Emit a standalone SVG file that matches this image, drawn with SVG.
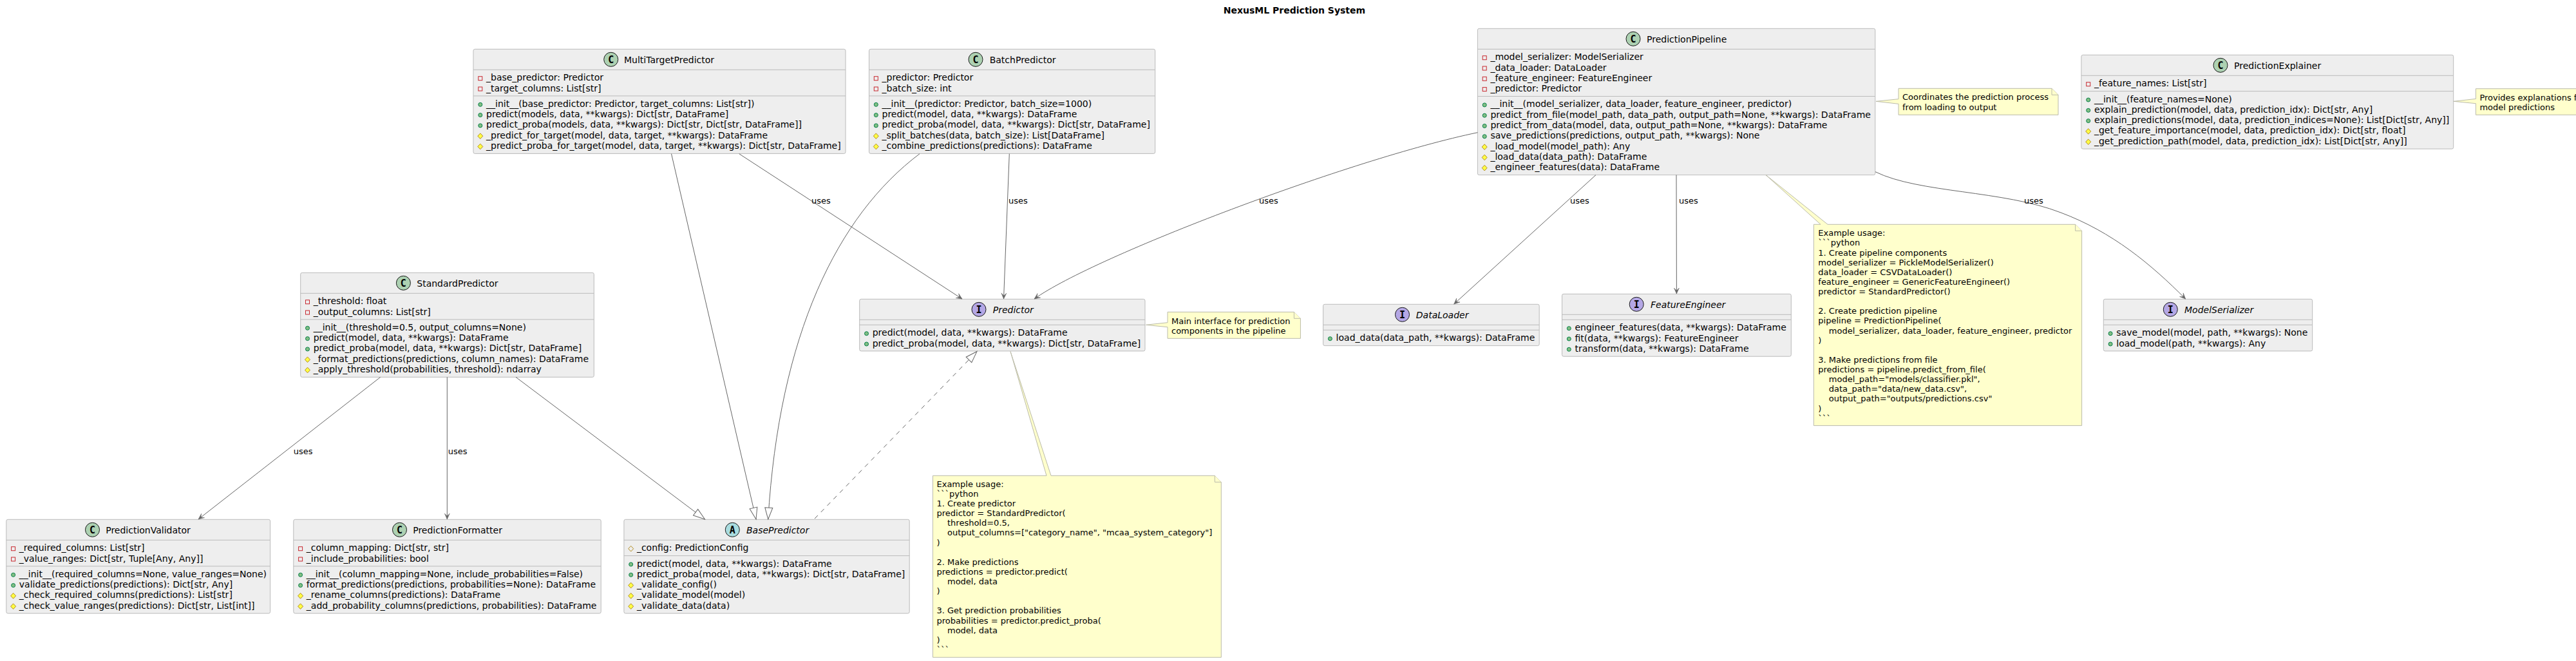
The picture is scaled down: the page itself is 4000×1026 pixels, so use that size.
<svg xmlns="http://www.w3.org/2000/svg" width="4000" height="1026" viewBox="0 0 4000 1026">
<style>
text{font-family:"DejaVu Sans",sans-serif;font-size:14px;fill:#000}
.ttl{font-weight:bold;text-anchor:middle}
.it{font-style:italic}
.box{fill:#EEEEEE;stroke:#BBBBBB;stroke-width:1}
.sep{stroke:#BBBBBB;stroke-width:1;fill:none}
.ic{stroke:#181818;stroke-width:1}
.c{fill:#ADD1B2}.i{fill:#B4A7E5}.a{fill:#A9DCDF}
.lt{font-family:"DejaVu Sans Mono",monospace;font-weight:bold;font-size:15px;text-anchor:middle}
.pub{fill:#84BE84;stroke:#038048}
.pri{fill:none;stroke:#C82930}
.pro{fill:#FFFF44;stroke:#B38D22}
.proh{fill:none;stroke:#B38D22}
.note{fill:#FFFFCC;stroke:#BBBBAA;stroke-width:1}
.n,.lb{font-size:13px}
.ln{fill:none;stroke:#666666;stroke-width:1}
.ds{stroke-dasharray:7 7}
</style>
<defs>
<circle id="pub" class="pub" r="3"/>
<rect id="pri" class="pri" x="-3" y="-3" width="6" height="6"/>
<path id="pro" class="pro" d="M0,-4.3L4,0L0,4.3L-4,0Z"/>
<path id="proh" class="proh" d="M0,-4.3L4,0L0,4.3L-4,0Z"/>
<marker id="open" viewBox="-11 -6 13 12" refX="0" refY="0" markerWidth="13" markerHeight="12" markerUnits="userSpaceOnUse" orient="auto"><path d="M0,0L-9,-4L-5,0L-9,4Z" fill="#666666" stroke="#666666" stroke-width="0.5"/></marker>
<marker id="tri" viewBox="-20 -8 22 16" refX="0" refY="0" markerWidth="22" markerHeight="16" markerUnits="userSpaceOnUse" orient="auto"><path d="M0,0L-18,-6L-18,6Z" fill="#FFFFFF" stroke="#666666"/></marker>
</defs>
<text class="ttl" x="2010" y="21">NexusML Prediction System</text>

<g id="MultiTargetPredictor" transform="translate(735,76.3)">
<rect class="box" width="578" height="162.1" rx="2.5"/><path class="sep" d="M0,32H578M0,72.6H578"/>
<circle class="ic c" cx="213.7" cy="16" r="11"/><text class="lt" x="213.7" y="21.5">C</text><text x="234" y="22">MultiTargetPredictor</text>
<use href="#pri" x="10.8" y="45.4"/><text x="20" y="49">_base_predictor: Predictor</text>
<use href="#pri" x="10.8" y="61.7"/><text x="20" y="65.3">_target_columns: List[str]</text>
<use href="#pub" x="10.8" y="86"/><text x="20" y="89.6">__init__(base_predictor: Predictor, target_columns: List[str])</text>
<use href="#pub" x="10.8" y="102.3"/><text x="20" y="105.9">predict(models, data, **kwargs): Dict[str, DataFrame]</text>
<use href="#pub" x="10.8" y="118.6"/><text x="20" y="122.2">predict_proba(models, data, **kwargs): Dict[str, Dict[str, DataFrame]]</text>
<use href="#pro" x="10.8" y="134.9"/><text x="20" y="138.5">_predict_for_target(model, data, target, **kwargs): DataFrame</text>
<use href="#pro" x="10.8" y="151.2"/><text x="20" y="154.8">_predict_proba_for_target(model, data, target, **kwargs): Dict[str, DataFrame]</text>
</g>

<g id="BatchPredictor" transform="translate(1349.5,76.3)">
<rect class="box" width="444.2" height="162.1" rx="2.5"/><path class="sep" d="M0,32H444.2M0,72.6H444.2"/>
<circle class="ic c" cx="165.5" cy="16" r="11"/><text class="lt" x="165.5" y="21.5">C</text><text x="187.2" y="22">BatchPredictor</text>
<use href="#pri" x="10.8" y="45.4"/><text x="20" y="49">_predictor: Predictor</text>
<use href="#pri" x="10.8" y="61.7"/><text x="20" y="65.3">_batch_size: int</text>
<use href="#pub" x="10.8" y="86"/><text x="20" y="89.6">__init__(predictor: Predictor, batch_size=1000)</text>
<use href="#pub" x="10.8" y="102.3"/><text x="20" y="105.9">predict(model, data, **kwargs): DataFrame</text>
<use href="#pub" x="10.8" y="118.6"/><text x="20" y="122.2">predict_proba(model, data, **kwargs): Dict[str, DataFrame]</text>
<use href="#pro" x="10.8" y="134.9"/><text x="20" y="138.5">_split_batches(data, batch_size): List[DataFrame]</text>
<use href="#pro" x="10.8" y="151.2"/><text x="20" y="154.8">_combine_predictions(predictions): DataFrame</text>
</g>

<g id="PredictionPipeline" transform="translate(2294.4,44.3)">
<rect class="box" width="617.4" height="227.3" rx="2.5"/><path class="sep" d="M0,32H617.4M0,105.2H617.4"/>
<circle class="ic c" cx="241.6" cy="16" r="11"/><text class="lt" x="241.6" y="21.5">C</text><text x="262.6" y="22">PredictionPipeline</text>
<use href="#pri" x="10.8" y="45.4"/><text x="20" y="49">_model_serializer: ModelSerializer</text>
<use href="#pri" x="10.8" y="61.7"/><text x="20" y="65.3">_data_loader: DataLoader</text>
<use href="#pri" x="10.8" y="78"/><text x="20" y="81.6">_feature_engineer: FeatureEngineer</text>
<use href="#pri" x="10.8" y="94.3"/><text x="20" y="97.9">_predictor: Predictor</text>
<use href="#pub" x="10.8" y="118.6"/><text x="20" y="122.2">__init__(model_serializer, data_loader, feature_engineer, predictor)</text>
<use href="#pub" x="10.8" y="134.9"/><text x="20" y="138.5">predict_from_file(model_path, data_path, output_path=None, **kwargs): DataFrame</text>
<use href="#pub" x="10.8" y="151.2"/><text x="20" y="154.8">predict_from_data(model, data, output_path=None, **kwargs): DataFrame</text>
<use href="#pub" x="10.8" y="167.5"/><text x="20" y="171.1">save_predictions(predictions, output_path, **kwargs): None</text>
<use href="#pro" x="10.8" y="183.8"/><text x="20" y="187.4">_load_model(model_path): Any</text>
<use href="#pro" x="10.8" y="200.1"/><text x="20" y="203.7">_load_data(data_path): DataFrame</text>
<use href="#pro" x="10.8" y="216.4"/><text x="20" y="220">_engineer_features(data): DataFrame</text>
</g>

<g id="PredictionExplainer" transform="translate(3231.9,85.3)">
<rect class="box" width="577.8" height="145.8" rx="2.5"/><path class="sep" d="M0,32H577.8M0,56.3H577.8"/>
<circle class="ic c" cx="216.1" cy="16" r="11"/><text class="lt" x="216.1" y="21.5">C</text><text x="237.1" y="22">PredictionExplainer</text>
<use href="#pri" x="10.8" y="45.4"/><text x="20" y="49">_feature_names: List[str]</text>
<use href="#pub" x="10.8" y="69.7"/><text x="20" y="73.3">__init__(feature_names=None)</text>
<use href="#pub" x="10.8" y="86"/><text x="20" y="89.6">explain_prediction(model, data, prediction_idx): Dict[str, Any]</text>
<use href="#pub" x="10.8" y="102.3"/><text x="20" y="105.9">explain_predictions(model, data, prediction_indices=None): List[Dict[str, Any]]</text>
<use href="#pro" x="10.8" y="118.6"/><text x="20" y="122.2">_get_feature_importance(model, data, prediction_idx): Dict[str, float]</text>
<use href="#pro" x="10.8" y="134.9"/><text x="20" y="138.5">_get_prediction_path(model, data, prediction_idx): List[Dict[str, Any]]</text>
</g>

<g id="StandardPredictor" transform="translate(466.7,423.3)">
<rect class="box" width="455.6" height="162.1" rx="2.5"/><path class="sep" d="M0,32H455.6M0,72.6H455.6"/>
<circle class="ic c" cx="159.7" cy="16" r="11"/><text class="lt" x="159.7" y="21.5">C</text><text x="180.6" y="22">StandardPredictor</text>
<use href="#pri" x="10.8" y="45.4"/><text x="20" y="49">_threshold: float</text>
<use href="#pri" x="10.8" y="61.7"/><text x="20" y="65.3">_output_columns: List[str]</text>
<use href="#pub" x="10.8" y="86"/><text x="20" y="89.6">__init__(threshold=0.5, output_columns=None)</text>
<use href="#pub" x="10.8" y="102.3"/><text x="20" y="105.9">predict(model, data, **kwargs): DataFrame</text>
<use href="#pub" x="10.8" y="118.6"/><text x="20" y="122.2">predict_proba(model, data, **kwargs): Dict[str, DataFrame]</text>
<use href="#pro" x="10.8" y="134.9"/><text x="20" y="138.5">_format_predictions(predictions, column_names): DataFrame</text>
<use href="#pro" x="10.8" y="151.2"/><text x="20" y="154.8">_apply_threshold(probabilities, threshold): ndarray</text>
</g>

<g id="Predictor" transform="translate(1334.7,464.3)">
<rect class="box" width="443.3" height="80.6" rx="2.5"/><path class="sep" d="M0,32H443.3M0,40H443.3"/>
<circle class="ic i" cx="185.3" cy="16" r="11"/><text class="lt" x="185.3" y="21.5">I</text><text class="it" x="207" y="22">Predictor</text>
<use href="#pub" x="10.8" y="53.4"/><text x="20" y="57">predict(model, data, **kwargs): DataFrame</text>
<use href="#pub" x="10.8" y="69.7"/><text x="20" y="73.3">predict_proba(model, data, **kwargs): Dict[str, DataFrame]</text>
</g>

<g id="DataLoader" transform="translate(2054.6,472.3)">
<rect class="box" width="335.6" height="64.3" rx="2.5"/><path class="sep" d="M0,32H335.6M0,40H335.6"/>
<circle class="ic i" cx="122.9" cy="16" r="11"/><text class="lt" x="122.9" y="21.5">I</text><text class="it" x="144.2" y="22">DataLoader</text>
<use href="#pub" x="10.8" y="53.4"/><text x="20" y="57">load_data(data_path, **kwargs): DataFrame</text>
</g>

<g id="FeatureEngineer" transform="translate(2425.5,456.3)">
<rect class="box" width="355.8" height="96.9" rx="2.5"/><path class="sep" d="M0,32H355.8M0,40H355.8"/>
<circle class="ic i" cx="115.7" cy="16" r="11"/><text class="lt" x="115.7" y="21.5">I</text><text class="it" x="137.5" y="22">FeatureEngineer</text>
<use href="#pub" x="10.8" y="53.4"/><text x="20" y="57">engineer_features(data, **kwargs): DataFrame</text>
<use href="#pub" x="10.8" y="69.7"/><text x="20" y="73.3">fit(data, **kwargs): FeatureEngineer</text>
<use href="#pub" x="10.8" y="86"/><text x="20" y="89.6">transform(data, **kwargs): DataFrame</text>
</g>

<g id="ModelSerializer" transform="translate(3266.3,464.3)">
<rect class="box" width="324.4" height="80.6" rx="2.5"/><path class="sep" d="M0,32H324.4M0,40H324.4"/>
<circle class="ic i" cx="104" cy="16" r="11"/><text class="lt" x="104" y="21.5">I</text><text class="it" x="125.7" y="22">ModelSerializer</text>
<use href="#pub" x="10.8" y="53.4"/><text x="20" y="57">save_model(model, path, **kwargs): None</text>
<use href="#pub" x="10.8" y="69.7"/><text x="20" y="73.3">load_model(path, **kwargs): Any</text>
</g>

<g id="PredictionValidator" transform="translate(9.8,806.3)">
<rect class="box" width="409.8" height="145.8" rx="2.5"/><path class="sep" d="M0,32H409.8M0,72.6H409.8"/>
<circle class="ic c" cx="133.7" cy="16" r="11"/><text class="lt" x="133.7" y="21.5">C</text><text x="154.4" y="22">PredictionValidator</text>
<use href="#pri" x="10.8" y="45.4"/><text x="20" y="49">_required_columns: List[str]</text>
<use href="#pri" x="10.8" y="61.7"/><text x="20" y="65.3">_value_ranges: Dict[str, Tuple[Any, Any]]</text>
<use href="#pub" x="10.8" y="86"/><text x="20" y="89.6">__init__(required_columns=None, value_ranges=None)</text>
<use href="#pub" x="10.8" y="102.3"/><text x="20" y="105.9">validate_predictions(predictions): Dict[str, Any]</text>
<use href="#pro" x="10.8" y="118.6"/><text x="20" y="122.2">_check_required_columns(predictions): List[str]</text>
<use href="#pro" x="10.8" y="134.9"/><text x="20" y="138.5">_check_value_ranges(predictions): Dict[str, List[int]]</text>
</g>

<g id="PredictionFormatter" transform="translate(455.8,806.3)">
<rect class="box" width="477.4" height="145.8" rx="2.5"/><path class="sep" d="M0,32H477.4M0,72.6H477.4"/>
<circle class="ic c" cx="164.7" cy="16" r="11"/><text class="lt" x="164.7" y="21.5">C</text><text x="185.4" y="22">PredictionFormatter</text>
<use href="#pri" x="10.8" y="45.4"/><text x="20" y="49">_column_mapping: Dict[str, str]</text>
<use href="#pri" x="10.8" y="61.7"/><text x="20" y="65.3">_include_probabilities: bool</text>
<use href="#pub" x="10.8" y="86"/><text x="20" y="89.6">__init__(column_mapping=None, include_probabilities=False)</text>
<use href="#pub" x="10.8" y="102.3"/><text x="20" y="105.9">format_predictions(predictions, probabilities=None): DataFrame</text>
<use href="#pro" x="10.8" y="118.6"/><text x="20" y="122.2">_rename_columns(predictions): DataFrame</text>
<use href="#pro" x="10.8" y="134.9"/><text x="20" y="138.5">_add_probability_columns(predictions, probabilities): DataFrame</text>
</g>

<g id="BasePredictor" transform="translate(968.9,806.3)">
<rect class="box" width="443.3" height="145.8" rx="2.5"/><path class="sep" d="M0,32H443.3M0,56.3H443.3"/>
<circle class="ic a" cx="168.4" cy="16" r="11"/><text class="lt" x="168.4" y="21.5">A</text><text class="it" x="190.1" y="22">BasePredictor</text>
<use href="#proh" x="10.8" y="45.4"/><text x="20" y="49">_config: PredictionConfig</text>
<use href="#pub" x="10.8" y="69.7"/><text x="20" y="73.3">predict(model, data, **kwargs): DataFrame</text>
<use href="#pub" x="10.8" y="86"/><text x="20" y="89.6">predict_proba(model, data, **kwargs): Dict[str, DataFrame]</text>
<use href="#pro" x="10.8" y="102.3"/><text x="20" y="105.9">_validate_config()</text>
<use href="#pro" x="10.8" y="118.6"/><text x="20" y="122.2">_validate_model(model)</text>
<use href="#pro" x="10.8" y="134.9"/><text x="20" y="138.5">_validate_data(data)</text>
</g>

<g id="note-pipeline" transform="translate(2948,137.3)">
<path class="note" d="M0,0H238L248,10V41H0V24L-35,20L0,16.4Z"/><path class="note" d="M238,0V10H248"/>
<text class="n" x="6" y="18">Coordinates the prediction process</text>
<text class="n" x="6" y="33.5">from loading to output</text>
</g>

<g id="note-explainer" transform="translate(3844.4,137.7)">
<path class="note" d="M0,0H176L186,10V40.6H0V23L-34.4,19.6L0,15.7Z"/>
<text class="n" x="6" y="18">Provides explanations for</text>
<text class="n" x="6" y="33.5">model predictions</text>
</g>

<g id="note-predictor" transform="translate(1813,484.3)">
<path class="note" d="M0,0H196.4L206.4,10V41H0V23.4L-33.5,20L0,16.4Z"/><path class="note" d="M196.4,0V10H206.4"/>
<text class="n" x="6" y="18.5">Main interface for prediction</text>
<text class="n" x="6" y="33.6">components in the pipeline</text>
</g>

<g id="note-predictor-example" transform="translate(1448.5,738.3)">
<path class="note" d="M0,0H176.5L120.5,-192.7L183.5,0H437.8L447.8,10V282H0Z"/><path class="note" d="M437.8,0V10H447.8"/>
<text class="n" x="6" y="17.5">Example usage:</text>
<text class="n" x="6" y="32.6">```python</text>
<text class="n" x="6" y="47.8">1. Create predictor</text>
<text class="n" x="6" y="62.9">predictor = StandardPredictor(</text>
<text class="n" x="22.5" y="78">threshold=0.5,</text>
<text class="n" x="22.5" y="93.2">output_columns=["category_name", "mcaa_system_category"]</text>
<text class="n" x="6" y="108.3">)</text>
<text class="n" x="6" y="138.5">2. Make predictions</text>
<text class="n" x="6" y="153.7">predictions = predictor.predict(</text>
<text class="n" x="22.5" y="168.8">model, data</text>
<text class="n" x="6" y="183.9">)</text>
<text class="n" x="6" y="214.2">3. Get prediction probabilities</text>
<text class="n" x="6" y="229.3">probabilities = predictor.predict_proba(</text>
<text class="n" x="22.5" y="244.5">model, data</text>
<text class="n" x="6" y="259.6">)</text>
<text class="n" x="6" y="274.7">```</text>
</g>

<g id="note-pipeline-example" transform="translate(2816.3,348.3)">
<path class="note" d="M0,0H10.7L-74.3,-76.7L21.7,0H406.3L416.3,10V312.3H0Z"/><path class="note" d="M406.3,0V10H416.3"/>
<text class="n" x="7" y="18">Example usage:</text>
<text class="n" x="7" y="33.1">```python</text>
<text class="n" x="7" y="48.3">1. Create pipeline components</text>
<text class="n" x="7" y="63.4">model_serializer = PickleModelSerializer()</text>
<text class="n" x="7" y="78.5">data_loader = CSVDataLoader()</text>
<text class="n" x="7" y="93.7">feature_engineer = GenericFeatureEngineer()</text>
<text class="n" x="7" y="108.8">predictor = StandardPredictor()</text>
<text class="n" x="7" y="139">2. Create prediction pipeline</text>
<text class="n" x="7" y="154.2">pipeline = PredictionPipeline(</text>
<text class="n" x="23.5" y="169.3">model_serializer, data_loader, feature_engineer, predictor</text>
<text class="n" x="7" y="184.4">)</text>
<text class="n" x="7" y="214.7">3. Make predictions from file</text>
<text class="n" x="7" y="229.8">predictions = pipeline.predict_from_file(</text>
<text class="n" x="23.5" y="245">model_path="models/classifier.pkl",</text>
<text class="n" x="23.5" y="260.1">data_path="data/new_data.csv",</text>
<text class="n" x="23.5" y="275.2">output_path="outputs/predictions.csv"</text>
<text class="n" x="7" y="290.3">)</text>
<text class="n" x="7" y="305.5">```</text>
</g>

<g id="connectors">
<path class="ln" marker-end="url(#open)" d="M1147.7,238.7L1494,464"/>
<text class="lb" x="1260" y="316">uses</text>
<path class="ln" marker-end="url(#open)" d="M1567.3,238.7L1558.5,464"/>
<text class="lb" x="1566" y="316">uses</text>
<path class="ln" marker-end="url(#open)" d="M2294.4,205.7C2100,246 1700,397 1606,464"/>
<text class="lb" x="1955" y="316">uses</text>
<path class="ln" marker-end="url(#open)" d="M2478,271.6L2257.7,472"/>
<text class="lb" x="2438" y="316">uses</text>
<path class="ln" marker-end="url(#open)" d="M2603,271.6L2603.4,456"/>
<text class="lb" x="2607" y="316">uses</text>
<path class="ln" marker-end="url(#open)" d="M2912,266.7C2980,300 3110,295 3200,330C3280,360 3340,410 3393.7,464"/>
<text class="lb" x="3143" y="316">uses</text>
<path class="ln" marker-end="url(#open)" d="M590.7,585.4L308,806"/>
<text class="lb" x="455.7" y="705">uses</text>
<path class="ln" marker-end="url(#open)" d="M694.3,585.4V806"/>
<text class="lb" x="695.7" y="705">uses</text>
<path class="ln" marker-end="url(#tri)" d="M801,585.4L1094.5,806"/>
<path class="ln" marker-end="url(#tri)" d="M1042.5,238.7L1174,806"/>
<path class="ln" marker-end="url(#tri)" d="M1428,238.7C1300,335 1210,520 1192.7,806"/>
<path class="ln ds" marker-end="url(#tri)" d="M1265,805L1517,545.5"/>
</g>
</svg>
